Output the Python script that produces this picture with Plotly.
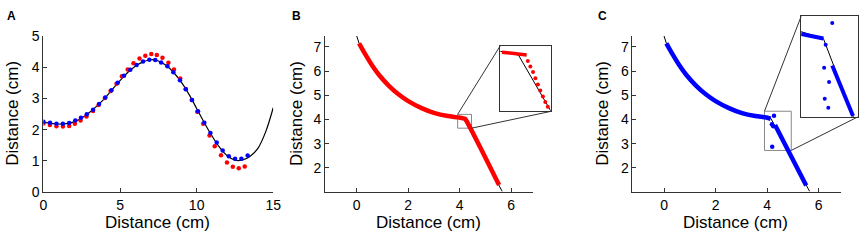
import plotly.graph_objects as go

# ---------------- Panel A data ----------------
a_curve_x = [0, 0.5, 1, 1.5, 2, 2.5, 3, 3.5, 4, 4.5, 5, 5.5, 6, 6.5, 7, 7.5, 8, 8.5, 9, 9.5,
             10, 10.5, 11, 11.5, 12, 12.5, 13, 13.5, 14, 14.5, 15]
a_curve_y = [2.23, 2.2, 2.18, 2.19, 2.25, 2.37, 2.55, 2.76, 3.0, 3.29, 3.57, 3.83, 4.03, 4.17, 4.24,
             4.2, 4.06, 3.83, 3.52, 3.13, 2.68, 2.22, 1.8, 1.43, 1.16, 1.02, 1.03, 1.15, 1.4, 1.92, 2.7]

a_blue_x = [0.0, 0.43, 0.85, 1.27, 1.68, 2.08, 2.45, 2.83, 3.24, 3.63, 4.04, 4.44, 4.85, 5.26, 5.67,
            6.08, 6.5, 6.91, 7.3, 7.68, 8.09, 8.48, 8.91, 9.29, 9.7, 10.09, 10.5, 10.9, 11.31, 11.7,
            12.1, 12.51, 12.92, 13.33]
a_blue_y = [2.25, 2.22, 2.19, 2.19, 2.21, 2.29, 2.38, 2.49, 2.64, 2.82, 3.03, 3.26, 3.5, 3.73, 3.92,
            4.07, 4.18, 4.24, 4.23, 4.15, 4.03, 3.84, 3.58, 3.29, 2.95, 2.59, 2.22, 1.89, 1.59, 1.33,
            1.15, 1.07, 1.07, 1.17]

a_red_x = [0.0, 0.42, 0.85, 1.27, 1.68, 2.05, 2.42, 2.81, 3.24, 3.6, 4.01, 4.38, 4.77, 5.12, 5.5,
           5.88, 6.27, 6.65, 7.04, 7.4, 7.77, 8.16, 8.52, 8.93, 9.29, 9.68, 10.04, 10.43, 10.84,
           11.18, 11.59, 11.98, 12.36, 12.75, 13.14]
a_red_y = [2.2, 2.15, 2.11, 2.1, 2.12, 2.19, 2.29, 2.42, 2.6, 2.79, 3.01, 3.24, 3.47, 3.71, 3.93,
           4.13, 4.28, 4.37, 4.42, 4.39, 4.3, 4.14, 3.93, 3.64, 3.3, 2.95, 2.57, 2.19, 1.81,
           1.47, 1.18, 0.95, 0.81, 0.76, 0.82]

# ---------------- Panels B / C data ----------------
path_x = [0, 0.09, 0.34, 0.6, 0.86, 1.24, 1.62, 2.0, 2.52, 3.03, 3.54, 3.98, 4.15, 5.65]
path_y = [7.45, 7.15, 6.68, 6.23, 5.85, 5.4, 5.04, 4.76, 4.47, 4.26, 4.14, 4.08, 4.04, 1.03]

b_red_x = [0.09, 0.34, 0.6, 0.86, 1.24, 1.62, 2.0, 2.52, 3.03, 3.54, 3.98, 4.2, 4.26, 5.53]
b_red_y = [7.15, 6.68, 6.23, 5.85, 5.4, 5.04, 4.76, 4.47, 4.26, 4.14, 4.08, 4.03, 3.95, 1.29]

c_arc_x = [0.09, 0.34, 0.6, 0.86, 1.24, 1.62, 2.0, 2.52, 3.03, 3.54, 3.98, 4.14]
c_arc_y = [7.15, 6.68, 6.23, 5.85, 5.4, 5.04, 4.76, 4.47, 4.26, 4.14, 4.08, 4.03]
c_line_x = [4.31, 5.52]
c_line_y = [3.77, 1.27]
c_dot_x = [4.27, 4.19, 4.24, 4.2]
c_dot_y = [4.15, 3.8, 3.72, 2.87]

# inset B (zoomed detail)
bi_line_x = [4.052, 4.199]
bi_line_y = [4.06, 4.04]
bi_dot_x = [4.206, 4.221, 4.237, 4.251, 4.266, 4.28, 4.296, 4.31, 4.325]
bi_dot_y = [3.999, 3.96, 3.922, 3.879, 3.836, 3.795, 3.753, 3.715, 3.682]

# inset C (zoomed detail)
ci_arc_x = [4.0315, 4.15]
ci_arc_y = [4.059, 4.04]
ci_line_x = [4.197, 4.3075]
ci_line_y = [3.93, 3.725]
ci_dot_x = [4.197, 4.162, 4.154, 4.18, 4.157, 4.176]
ci_dot_y = [4.103, 4.015, 3.921, 3.863, 3.795, 3.759]

# zoom boxes in main axes
b_box = [3.92, 4.46, 3.64, 4.21]
c_box = [3.9, 4.94, 2.72, 4.34]

# ---------------- layout geometry ----------------
W, H = 868, 243
def dx(p): return p / W
def dy(p): return 1 - p / H

dom = {
    'A': ([dx(40), dx(273)], [dy(197), dy(30)]),
    'B': ([dx(325.7), dx(536.7)], [dy(197), dy(30)]),
    'C': ([dx(637.3), dx(848.7)], [dy(197), dy(30)]),
    'BI': ([dx(503.3), dx(554.3)], [dy(110.7), dy(40.3)]),
    'CI': ([dx(808.3), dx(865.5)], [dy(116.7), dy(9)]),
}
rng = {
    'A': ([0, 15], [0, 5]),
    'B': ([-1.226, 6.86], [1.0, 7.45]),
    'C': ([-1.225, 6.87], [1.0, 7.45]),
    'BI': ([4.042, 4.342], [3.65, 4.105]),
    'CI': ([4.0315, 4.3315], [3.721, 4.13]),
}

FONT = "Liberation Sans, Arial, sans-serif"
AXC = "#333333"

fig = go.Figure()

def add(x, y, ax, **kw):
    fig.add_trace(go.Scatter(x=x, y=y, xaxis='x' + ax, yaxis='y' + ax, showlegend=False,
                             hoverinfo='skip', **kw))

# Panel A
add(a_curve_x, a_curve_y, '', mode='lines', line=dict(color='black', width=1.2, shape='spline'))
add(a_red_x, a_red_y, '', mode='markers', marker=dict(color='#ff0000', size=4.5))
add(a_blue_x, a_blue_y, '', mode='markers', marker=dict(color='#0000ff', size=4.5))

# Panel B
add(path_x, path_y, '2', mode='lines', line=dict(color='black', width=1))
add(b_red_x, b_red_y, '2', mode='lines',
    line=dict(color='#ff0000', width=4.5, shape='spline', smoothing=0.8))

# Panel C
add(path_x, path_y, '3', mode='lines', line=dict(color='black', width=1))
add(c_arc_x, c_arc_y, '3', mode='lines',
    line=dict(color='#0000ff', width=4.5, shape='spline', smoothing=0.8))
add(c_line_x, c_line_y, '3', mode='lines', line=dict(color='#0000ff', width=4.5))
add(c_dot_x, c_dot_y, '3', mode='markers', marker=dict(color='#0000ff', size=4.5))

# Inset B
add(path_x, path_y, '4', mode='lines', line=dict(color='black', width=1))
add(bi_line_x, bi_line_y, '4', mode='lines', line=dict(color='#ff0000', width=3.5))
add(bi_dot_x, bi_dot_y, '4', mode='markers', marker=dict(color='#ff0000', size=4))

# Inset C
add(path_x, path_y, '5', mode='lines', line=dict(color='black', width=1))
add(ci_arc_x, ci_arc_y, '5', mode='lines', line=dict(color='#0000ff', width=4))
add(ci_line_x, ci_line_y, '5', mode='lines', line=dict(color='#0000ff', width=4))
add(ci_dot_x, ci_dot_y, '5', mode='markers', marker=dict(color='#0000ff', size=4))

def main_axis(key, tickvals, anchor):
    d = dom[key]
    r = rng[key]
    common = dict(showline=True, linecolor=AXC, linewidth=1, ticks='inside', ticklen=4,
                  tickcolor=AXC, showgrid=False, zeroline=False,
                  tickfont=dict(family=FONT, size=14, color='black'))
    xa = dict(domain=d[0], range=r[0], tickvals=tickvals[0], anchor='y' + anchor, **common)
    ya = dict(domain=d[1], range=r[1], tickvals=tickvals[1], anchor='x' + anchor, **common)
    return xa, ya

def inset_axis(key, anchor):
    d = dom[key]
    r = rng[key]
    common = dict(showline=True, mirror=True, linecolor=AXC, linewidth=1, ticks='',
                  showticklabels=False, showgrid=False, zeroline=False)
    return (dict(domain=d[0], range=r[0], anchor='y' + anchor, **common),
            dict(domain=d[1], range=r[1], anchor='x' + anchor, **common))

xa1, ya1 = main_axis('A', ([0, 5, 10, 15], [0, 1, 2, 3, 4, 5]), '')
xa2, ya2 = main_axis('B', ([0, 2, 4, 6], [2, 3, 4, 5, 6, 7]), '2')
xa3, ya3 = main_axis('C', ([0, 2, 4, 6], [2, 3, 4, 5, 6, 7]), '3')
xa4, ya4 = inset_axis('BI', '4')
xa5, ya5 = inset_axis('CI', '5')
xa1['anchor'] = 'y'; ya1['anchor'] = 'x'

def to_paper(key, x, y):
    d, r = dom[key], rng[key]
    px = d[0][0] + (x - r[0][0]) / (r[0][1] - r[0][0]) * (d[0][1] - d[0][0])
    py = d[1][0] + (y - r[1][0]) / (r[1][1] - r[1][0]) * (d[1][1] - d[1][0])
    return px, py

shapes = []
for key, ax, box, ikey in [('B', '2', b_box, 'BI'), ('C', '3', c_box, 'CI')]:
    x0, x1, y0, y1 = box
    shapes.append(dict(type='rect', xref='x' + ax, yref='y' + ax, x0=x0, x1=x1, y0=y0, y1=y1,
                       line=dict(color='#888888', width=1), layer='below'))
    tlx, tly = to_paper(key, x0, y1)
    brx, bry = to_paper(key, x1, y0)
    di = dom[ikey]
    shapes.append(dict(type='line', xref='paper', yref='paper', x0=tlx, y0=tly,
                       x1=di[0][0], y1=di[1][1], line=dict(color=AXC, width=1)))
    shapes.append(dict(type='line', xref='paper', yref='paper', x0=brx, y0=bry,
                       x1=di[0][1], y1=di[1][0], line=dict(color=AXC, width=1)))

ann = []
title_font = dict(family=FONT, size=17, color='black')
for cx, cy in [(156, 230), (430.5, 230), (741.7, 230)]:
    ann.append(dict(text='Distance (cm)', x=dx(cx), y=dy(cy), xref='paper', yref='paper',
                    showarrow=False, font=title_font, xanchor='center', yanchor='middle'))
for cx, cy in [(8.3, 113), (296.5, 113), (606.7, 113)]:
    ann.append(dict(text='Distance (cm)', x=dx(cx), y=dy(cy), xref='paper', yref='paper',
                    showarrow=False, font=title_font, textangle=-90,
                    xanchor='center', yanchor='middle'))
for lab, cx, cy in [('A', 8, 9), ('B', 297, 9), ('C', 607, 9)]:
    ann.append(dict(text='<b>' + lab + '</b>', x=dx(cx), y=dy(cy), xref='paper', yref='paper',
                    showarrow=False, font=dict(family=FONT, size=12, color='black'),
                    xanchor='center', yanchor='middle'))

fig.update_layout(
    width=W, height=H, margin=dict(l=0, r=0, t=0, b=0),
    paper_bgcolor='white', plot_bgcolor='rgba(0,0,0,0)',
    xaxis=xa1, yaxis=ya1, xaxis2=xa2, yaxis2=ya2, xaxis3=xa3, yaxis3=ya3,
    xaxis4=xa4, yaxis4=ya4, xaxis5=xa5, yaxis5=ya5,
    shapes=shapes, annotations=ann, showlegend=False,
)

fig.write_html("out.html", config={'displayModeBar': False, 'staticPlot': True},
               post_script="document.body.style.margin='0';document.body.style.overflow='hidden';")
